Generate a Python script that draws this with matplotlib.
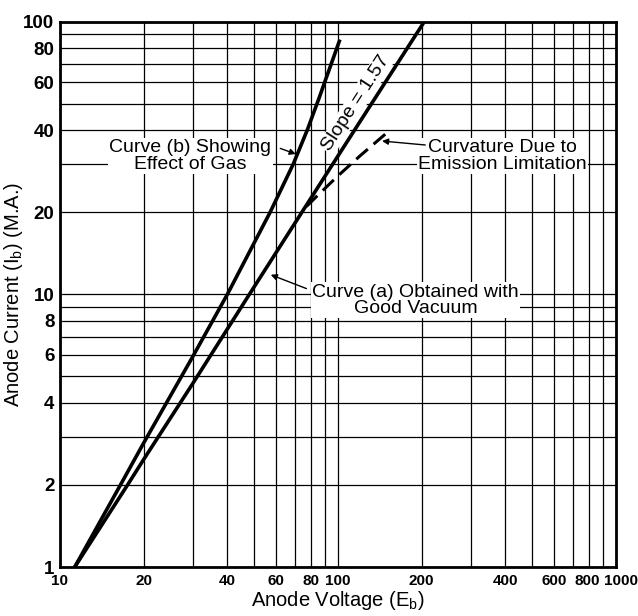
import matplotlib
matplotlib.use("Agg")
import matplotlib.pyplot as plt
from matplotlib import font_manager as fm
from matplotlib.ticker import FixedLocator, FixedFormatter, NullFormatter
from matplotlib.transforms import ScaledTranslation

plt.rcParams['font.family'] = ['Liberation Sans', 'DejaVu Sans']

# Curve (a): good vacuum (straight line, slope ~1.57)
volt_a = [11.3, 17.5, 20, 30, 48, 76, 120, 204]
curr_a = [1.0, 2.0, 2.48, 4.7, 10.0, 20.8, 43.0, 99.7]

# Curve (b): effect of gas
volt_b = [11.3, 16.5, 20, 30, 40, 57, 69, 77.5, 85, 101.6]
curr_b = [1.0, 2.0, 2.85, 5.9, 10.0, 20.0, 30.0, 40.0, 51.6, 86.0]

# Dashed: emission limitation
volt_c = [77, 85, 100, 120, 155]
curr_c = [21.0, 23.2, 27.2, 32.2, 40.3]

x_ticks = [10, 20, 40, 60, 80, 100, 200, 400, 600, 800, 1000]
y_ticks = [1, 2, 4, 6, 8, 10, 20, 40, 60, 80, 100]
x_grid = [10, 20, 30, 40, 50, 60, 70, 80, 90, 100, 200, 300, 400, 500, 600, 700, 800, 900, 1000]
y_grid = [1, 2, 3, 4, 5, 6, 7, 8, 9, 10, 20, 30, 40, 50, 60, 70, 80, 90, 100]

# pick a condensed font for the x tick labels if one is installed
names = {f.name for f in fm.fontManager.ttflist}
if 'Liberation Sans Narrow' in names:
    tick_fp = fm.FontProperties(family='Liberation Sans Narrow', weight='bold', size=13)
else:
    tick_fp = fm.FontProperties(family='Liberation Sans', weight='bold', size=11)

fig = plt.figure(figsize=(6.38, 6.16), dpi=100)
ax = fig.add_axes([0.094, 0.0795, 0.8715, 0.8853])
ax.set_xscale('log')
ax.set_yscale('log')
ax.set_xlim(10, 1000)
ax.set_ylim(1, 100)

for gx in x_grid:
    ax.axvline(gx, color='black', lw=0.9, zorder=1)
for gy in y_grid:
    ax.axhline(gy, color='black', lw=0.9, zorder=1)

ax.plot(volt_a, curr_a, color='black', lw=2.6, zorder=3, solid_capstyle='butt')
ax.plot(volt_b, curr_b, color='black', lw=2.6, zorder=3, solid_capstyle='butt')
ax.plot(volt_c, curr_c, color='black', lw=2.2, zorder=3, dashes=(5, 2.5))

ax.xaxis.set_major_locator(FixedLocator(x_ticks))
ax.xaxis.set_major_formatter(FixedFormatter([str(t) for t in x_ticks]))
ax.xaxis.set_minor_formatter(NullFormatter())
ax.xaxis.set_minor_locator(FixedLocator([]))
ax.yaxis.set_major_locator(FixedLocator(y_ticks))
ax.yaxis.set_major_formatter(FixedFormatter([str(t) for t in y_ticks]))
ax.yaxis.set_minor_formatter(NullFormatter())
ax.yaxis.set_minor_locator(FixedLocator([]))
ax.tick_params(length=0, labelsize=13.5, pad=4)
ax.tick_params(axis='x', pad=5)
for lab in ax.get_yticklabels():
    lab.set_fontweight('bold')
xlabs = ax.get_xticklabels()
for lab in xlabs:
    lab.set_fontproperties(tick_fp)
# the last two labels are nudged apart, as in the original
xlabs[-2].set_transform(xlabs[-2].get_transform() + ScaledTranslation(-2 / 100, 0, fig.dpi_scale_trans))
xlabs[-1].set_transform(xlabs[-1].get_transform() + ScaledTranslation(5 / 100, 0, fig.dpi_scale_trans))
for s in ax.spines.values():
    s.set_linewidth(2)
    s.set_zorder(4)

ax.set_xlabel('Anode Voltage (E$_\\mathregular{b}$)', fontsize=14.5, labelpad=1)
ax.set_ylabel('Anode Current (I$_\\mathregular{b}$) (M.A.)', fontsize=14.5)
ax.yaxis.set_label_coords(-0.063, 0.5)

box = dict(facecolor='white', edgecolor='none', pad=1.0)
ap = dict(arrowstyle='-|>', color='black', lw=1.0, mutation_scale=9, shrinkA=0, shrinkB=0)

ax.text(29.4, 32.2, 'Curve (b) Showing\nEffect of Gas', ha='center', va='center',
        fontsize=14, linespacing=0.95, bbox=box, zorder=5)
ax.annotate('', xy=(70.5, 32.7), xytext=(62, 34.3), arrowprops=ap, zorder=5)

ax.text(116, 50.3, 'Slope = 1.57', ha='center', va='center', rotation=57,
        fontsize=14, bbox=box, zorder=5, rotation_mode='anchor')

ax.text(391, 32.2, 'Curvature Due to\nEmission Limitation', ha='center', va='center',
        fontsize=14, linespacing=0.95, bbox=box, zorder=5)
ax.annotate('', xy=(144, 36.5), xytext=(206, 35.3), arrowprops=ap, zorder=5)

ax.text(190, 9.52, 'Curve (a) Obtained with\nGood Vacuum', ha='center', va='center',
        fontsize=14, linespacing=0.95, bbox=box, zorder=5)
ax.annotate('', xy=(57.3, 11.8), xytext=(77, 10.5), arrowprops=ap, zorder=5)

fig.savefig('out.png', dpi=100)
